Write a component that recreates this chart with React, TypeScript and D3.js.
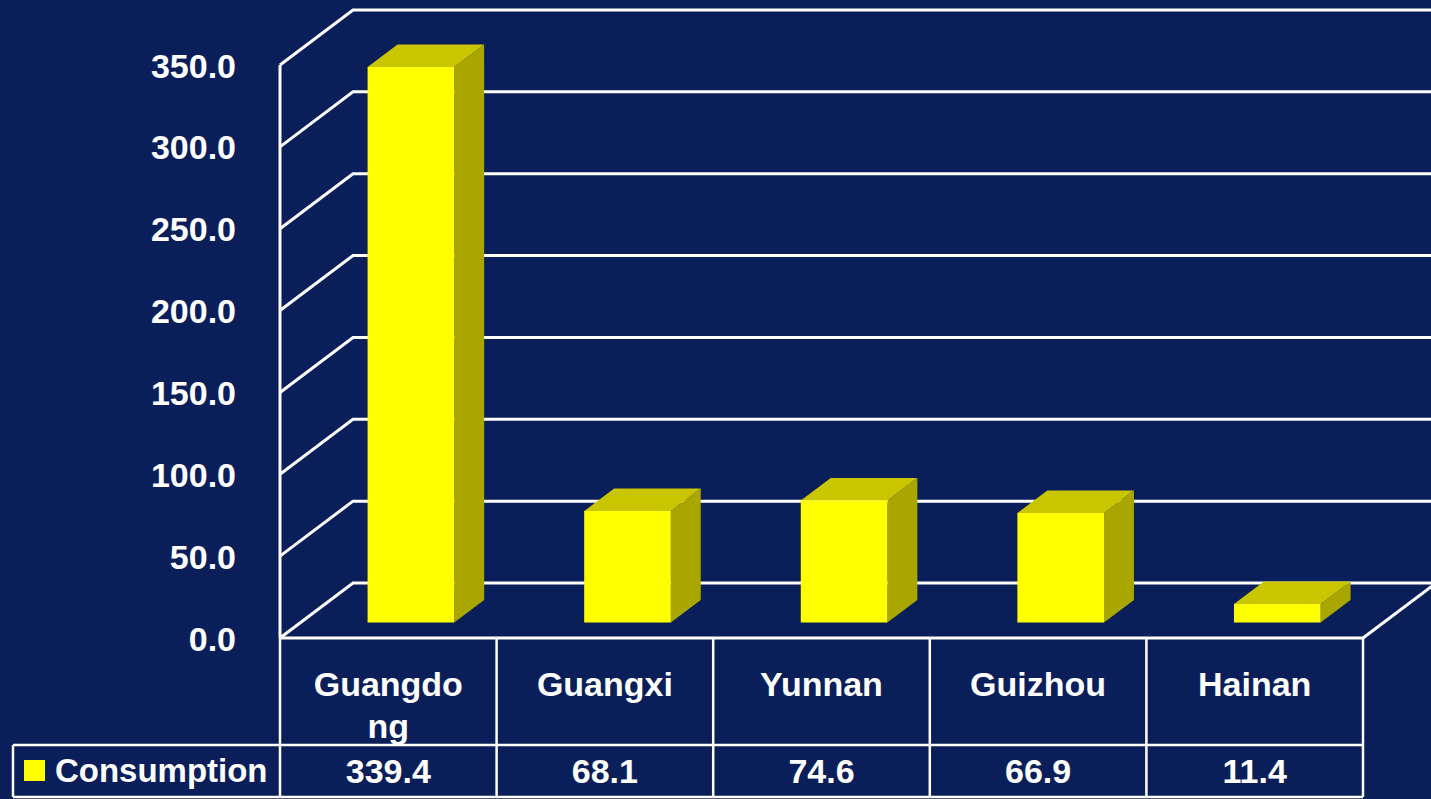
import React from "react";
import * as d3 from "d3";

const categories = ["Guangdong", "Guangxi", "Yunnan", "Guizhou", "Hainan"];
const consumption = [339.4, 68.1, 74.6, 66.9, 11.4];
const seriesName = "Consumption";
const yTicks = [0, 50, 100, 150, 200, 250, 300, 350];

const W = 1431;
const H = 799;
const BG = "#0a1f5a";
const FONT = "'Liberation Sans', Arial, sans-serif";
const FS = 34;

// 3D geometry
const X0 = 280;
const X1 = 1363;
const Y0 = 638;
const YTOP = 65;
const DX = 73;
const DY = 55;
const F0 = 0.28; // bar front depth fraction
const F1 = 0.69; // bar back depth fraction

function measure(text: string): number {
  const c = document.createElement("canvas").getContext("2d");
  if (!c) return text.length * FS * 0.6;
  c.font = `bold ${FS}px ${FONT}`;
  return c.measureText(text).width;
}

function wrap(text: string, maxW: number): string[] {
  if (measure(text) <= maxW) return [text];
  const lines: string[] = [];
  let cur = "";
  for (const ch of text) {
    if (cur && measure(cur + ch) > maxW) {
      lines.push(cur);
      cur = ch;
    } else cur += ch;
  }
  if (cur) lines.push(cur);
  return lines;
}

export default function App() {
  const x = d3.scaleBand<string>().domain(categories).range([X0, X1]).paddingInner(0).paddingOuter(0);
  const y = d3.scaleLinear().domain([0, 350]).range([Y0, YTOP]);
  const bw = x.bandwidth();
  const P = (px: number, py: number, f: number): [number, number] => [px + f * DX, py - f * DY];
  const pts = (arr: [number, number][]) => arr.map((p) => p.join(",")).join(" ");

  const gridPath = (v: number) => {
    const yf = y(v);
    const a = P(X0, yf, 0);
    const b = P(X0, yf, 1);
    const c = P(X1, yf, 1);
    return `M${a[0]},${a[1]}L${b[0]},${b[1]}L${c[0] + 10},${c[1]}`;
  };

  const tableMid = 745;
  const tableBot = 797;

  return (
    <div style={{ position: "fixed", left: 0, top: 0, width: W, height: H, background: BG }}>
      <svg width={W} height={H} style={{ display: "block" }}>
        <rect width={W} height={H} fill={BG} />
        {/* walls: gridlines */}
        {yTicks.map((v) => (
          <path key={v} d={gridPath(v)} fill="none" stroke="#fff" strokeWidth={3} />
        ))}
        {/* left wall front edge */}
        <line x1={X0} y1={y(350)} x2={X0} y2={Y0} stroke="#fff" strokeWidth={3} />
        {/* floor front/right edges */}
        <line x1={X0} y1={Y0} x2={X1} y2={Y0} stroke="#fff" strokeWidth={3} />
        <line x1={X1} y1={Y0} x2={P(X1, Y0, 1)[0]} y2={P(X1, Y0, 1)[1]} stroke="#fff" strokeWidth={3} />
        {/* y labels */}
        {yTicks.map((v) => (
          <text key={v} x={236} y={y(v) + 12.5} textAnchor="end" fill="#fff" fontFamily={FONT} fontWeight="bold" fontSize={FS}>
            {v.toFixed(1)}
          </text>
        ))}
        {/* bars */}
        {categories.map((c, i) => {
          const bx = (x(c) as number) + bw * 0.31;
          const bwid = bw * 0.4;
          const yv = y(consumption[i]);
          const front: [number, number][] = [P(bx, yv, F0), P(bx + bwid, yv, F0), P(bx + bwid, Y0, F0), P(bx, Y0, F0)];
          const top: [number, number][] = [P(bx, yv, F0), P(bx + bwid, yv, F0), P(bx + bwid, yv, F1), P(bx, yv, F1)];
          const side: [number, number][] = [P(bx + bwid, yv, F0), P(bx + bwid, Y0, F0), P(bx + bwid, Y0, F1), P(bx + bwid, yv, F1)];
          return (
            <g key={c}>
              <polygon points={pts(side)} fill="#a9a600" />
              <polygon points={pts(top)} fill="#c9c600" />
              <polygon points={pts(front)} fill="#ffff00" />
            </g>
          );
        })}
        {/* data table */}
        {[...categories.map((c) => x(c) as number), X1].map((vx, i) => (
          <line key={i} x1={vx} y1={Y0} x2={vx} y2={tableBot} stroke="#fff" strokeWidth={2.5} />
        ))}
        <line x1={13} y1={tableMid} x2={X1} y2={tableMid} stroke="#fff" strokeWidth={2.5} />
        <line x1={13} y1={tableBot} x2={X1} y2={tableBot} stroke="#fff" strokeWidth={2.5} />
        <line x1={13} y1={tableMid} x2={13} y2={tableBot} stroke="#fff" strokeWidth={2.5} />
        {categories.map((c) => {
          const lines = wrap(c, bw * 0.72);
          return (
            <text key={c} x={(x(c) as number) + bw / 2} y={696} textAnchor="middle" fill="#fff" fontFamily={FONT} fontWeight="bold" fontSize={FS}>
              {lines.map((l, j) => (
                <tspan key={j} x={(x(c) as number) + bw / 2} dy={j === 0 ? 0 : 42}>
                  {l}
                </tspan>
              ))}
            </text>
          );
        })}
        {categories.map((c, i) => (
          <text key={c} x={(x(c) as number) + bw / 2} y={783} textAnchor="middle" fill="#fff" fontFamily={FONT} fontWeight="bold" fontSize={FS}>
            {consumption[i].toFixed(1)}
          </text>
        ))}
        <rect x={24} y={760} width={21} height={21} fill="#ffff00" />
        <text x={55} y={782} fill="#fff" fontFamily={FONT} fontWeight="bold" fontSize={FS * 0.97}>
          {seriesName}
        </text>
      </svg>
    </div>
  );
}
